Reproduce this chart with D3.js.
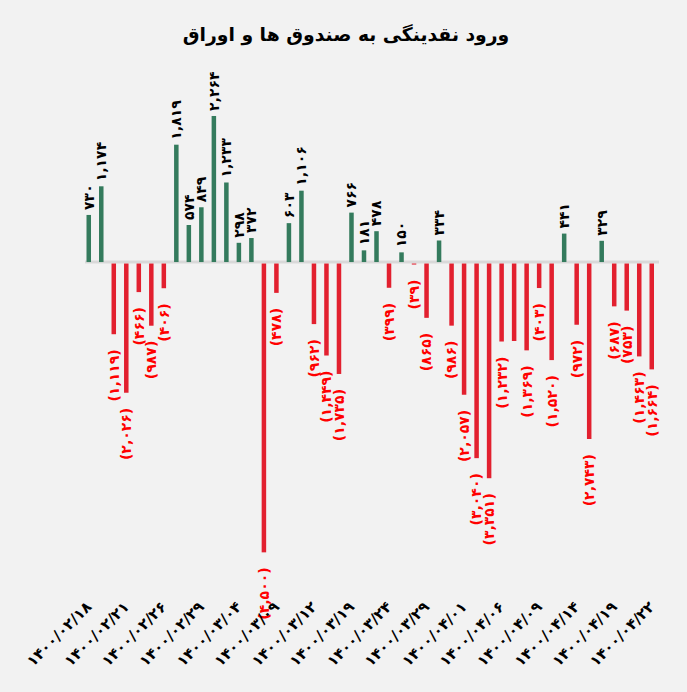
<!DOCTYPE html>
<html>
<head>
<meta charset="utf-8">
<script src="https://cdn.jsdelivr.net/npm/d3@7"></script>
<style>
  html, body { margin: 0; padding: 0; background: #f2f2f2; }
  svg { display: block; }
</style>
</head>
<body>
<svg width="687" height="692"></svg>
<script>
// data
var title = "ورود نقدینگی به صندوق ها و اوراق";
var dates = [
  "1400/02/18", "1400/02/19", "1400/02/20", "1400/02/21", "1400/02/22", "1400/02/25",
  "1400/02/26", "1400/02/27", "1400/02/28", "1400/02/29", "1400/03/02", "1400/03/03",
  "1400/03/04", "1400/03/05", "1400/03/08", "1400/03/09", "1400/03/10", "1400/03/11",
  "1400/03/12", "1400/03/16", "1400/03/17", "1400/03/19", "1400/03/22", "1400/03/23",
  "1400/03/24", "1400/03/25", "1400/03/26", "1400/03/29", "1400/03/30", "1400/03/31",
  "1400/04/01", "1400/04/02", "1400/04/05", "1400/04/06", "1400/04/07", "1400/04/08",
  "1400/04/09", "1400/04/12", "1400/04/13", "1400/04/14", "1400/04/15", "1400/04/16",
  "1400/04/19", "1400/04/20", "1400/04/21", "1400/04/22"
];
var values = [
  730, 1174, -1119, -2026, -466, -987, -406, 1819, 574, 849, 2264, 1233, 298, 372,
  -4500, -478, 603, 1106, -962, -1449, -1735, 766, 181, 478, -399, 150, -39, -865,
  334, -986, -2057, -3040, -3351, -1232, -1224, -1369, -403, -1520, 441, -972,
  -2743, 329, -687, -753, -1463, -1664
];
// every third date gets a label
var tickDates = dates.filter(function (d, i) { return i % 3 === 0; });
// labels the original hides
var hiddenLabels = [34];
/////////////////////////////////////

var green = "#347b5d", red = "#e2202f";
var fa = function (s) {
  return String(s).replace(/\d/g, function (c) { return "۰۱۲۳۴۵۶۷۸۹"[+c]; });
};
var fmt = d3.format(",");

var svg = d3.select("svg");
var x = d3.scaleBand()
  .domain(dates)
  .range([82.75, 657.75])
  .paddingInner(0.64)
  .paddingOuter(0.3);
var y = d3.scaleLinear()
  .domain([-5000, 3000])
  .range([584.6, 68.5]);

var data = dates.map(function (d, i) { return { date: d, value: values[i], i: i }; });

// title
svg.append("text")
  .attr("x", 346)
  .attr("y", 41)
  .attr("text-anchor", "middle")
  .attr("font-family", "DejaVu Sans")
  .attr("font-weight", "bold")
  .attr("font-size", 18.8)
  .attr("direction", "rtl")
  .text(title);

// zero line
svg.append("line")
  .attr("x1", 85)
  .attr("x2", 659)
  .attr("y1", y(0))
  .attr("y2", y(0))
  .attr("stroke", "#d9d9d9")
  .attr("stroke-width", 3);

// bars
svg.selectAll(".bar")
  .data(data)
  .enter().append("rect")
  .attr("class", "bar")
  .attr("x", function (d) { return x(d.date); })
  .attr("y", function (d) { return d.value > 0 ? y(d.value) : y(0) + 1.5; })
  .attr("width", x.bandwidth())
  .attr("height", function (d) { return Math.max(0, Math.abs(y(d.value) - y(0)) - (d.value > 0 ? 0 : 1.5)); })
  .attr("fill", function (d) { return d.value > 0 ? green : red; });

// value labels
svg.selectAll(".lbl")
  .data(data.filter(function (d) { return hiddenLabels.indexOf(d.i) < 0; }))
  .enter().append("text")
  .attr("class", "lbl")
  .attr("transform", function (d) {
    var cx = x(d.date) + x.bandwidth() / 2;
    var cy = d.value > 0 ? y(d.value) - 5 : y(d.value) + 15;
    return "translate(" + cx + "," + cy + ") rotate(-90)";
  })
  .attr("dy", "0.35em")
  .attr("text-anchor", function (d) { return d.value > 0 ? "start" : "end"; })
  .attr("font-family", "DejaVu Sans")
  .attr("font-weight", "bold")
  .attr("font-size", 14)
  .attr("fill", function (d) { return d.value > 0 ? "#000" : "red"; })
  .text(function (d) {
    return d.value > 0 ? fa(fmt(d.value)) : "(" + fa(fmt(-d.value)) + ")";
  });

// x axis (labels only)
var xAxis = svg.append("g")
  .attr("transform", "translate(0," + 604 + ")")
  .call(d3.axisBottom(x).tickValues(tickDates).tickSize(0).tickFormat(fa));
xAxis.select(".domain").remove();
xAxis.selectAll("text")
  .attr("font-family", "DejaVu Sans")
  .attr("font-weight", "bold")
  .attr("font-size", 15)
  .attr("fill", "#000")
  .attr("text-anchor", "end")
  .attr("dy", "0.35em")
  .attr("y", 0)
  .attr("transform", "rotate(-45)");
</script>
</body>
</html>
